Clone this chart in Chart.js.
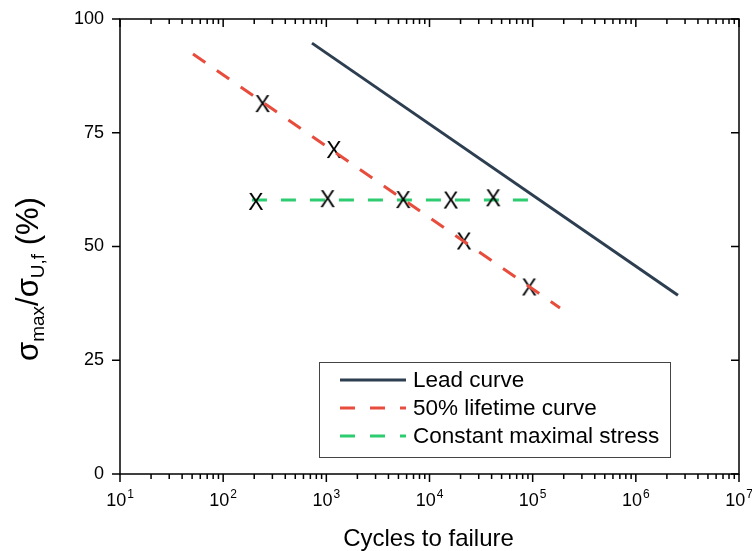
<!DOCTYPE html>
<html>
<head>
<meta charset="utf-8">
<script src="https://cdn.jsdelivr.net/npm/chart.js@4.4.0/dist/chart.umd.min.js"></script>
<style>
  html, body { margin: 0; padding: 0; background: #fff; }
  #wrap { width: 752px; height: 551px; }
</style>
</head>
<body>
<div id="wrap"><canvas id="sn"></canvas></div>
<script>
// S-N data: cycles to failure vs. max stress ratio (%)
const leadCycles = [726, 2.56e6];
const leadStress = [94.7, 39.3];

const lifetimeCycles = [51, 1.84e5];
const lifetimeStress = [92.3, 36.5];

const constCycles = [190, 9.0e4];
const constStress = [60.2, 60.2];

// individual test results
const testCycles = [241, 1186, 208, 1030, 5570, 16100, 41500, 21600, 92700];
const testStress = [81.3, 71.2, 59.8, 60.4, 60.2, 60.1, 60.6, 51.1, 41.0];

const xExponents = [1, 2, 3, 4, 5, 6, 7];
const yTicks = [0, 25, 50, 75, 100];

const legendLabels = ['Lead curve', '50% lifetime curve', 'Constant maximal stress'];

const NAVY = '#2c3e50';
const RED = '#e74c3c';
const GREEN = '#2ecc71';
const FONT = '"Liberation Sans", Arial, sans-serif';

function pts(xs, ys) {
    return xs.map((x, i) => ({ x: x, y: ys[i] }));
}

// "X" glyph used as marker
function makeCross() {
    const c = document.createElement('canvas');
    c.width = 24; c.height = 24;
    const g = c.getContext('2d');
    g.fillStyle = '#000';
    g.font = '23px ' + FONT;
    g.textAlign = 'center';
    g.textBaseline = 'alphabetic';
    g.fillText('X', 12, 20.3);
    return c;
}

const axesPlugin = {
    id: 'axesPlugin',
    afterDraw(chart) {
        const ctx = chart.ctx;
        const a = chart.chartArea;
        const xs = chart.scales.x;
        const ys = chart.scales.y;
        ctx.save();
        ctx.strokeStyle = '#000';
        ctx.lineWidth = 1.5;
        ctx.strokeRect(a.left, a.top, a.right - a.left, a.bottom - a.top);

        // x ticks: bottom outward, top inward
        ctx.beginPath();
        xExponents.forEach((e, i) => {
            const px = xs.getPixelForValue(Math.pow(10, e));
            ctx.moveTo(px, a.bottom); ctx.lineTo(px, a.bottom + 8);
            ctx.moveTo(px, a.top); ctx.lineTo(px, a.top + 8);
            if (i < xExponents.length - 1) {
                for (let m = 2; m <= 9; m++) {
                    const mx = xs.getPixelForValue(m * Math.pow(10, e));
                    ctx.moveTo(mx, a.bottom); ctx.lineTo(mx, a.bottom + 5);
                    ctx.moveTo(mx, a.top); ctx.lineTo(mx, a.top + 5);
                }
            }
        });
        // y ticks: left outward, right inward
        yTicks.forEach(v => {
            const py = ys.getPixelForValue(v);
            ctx.moveTo(a.left - 8, py); ctx.lineTo(a.left, py);
            ctx.moveTo(a.right - 8, py); ctx.lineTo(a.right, py);
        });
        ctx.stroke();

        ctx.fillStyle = '#000';
        // y tick labels
        ctx.font = '18px ' + FONT;
        ctx.textAlign = 'right';
        ctx.textBaseline = 'middle';
        yTicks.forEach(v => {
            ctx.fillText(String(v), a.left - 16, ys.getPixelForValue(v));
        });

        // x tick labels with superscript exponent
        ctx.textBaseline = 'alphabetic';
        ctx.textAlign = 'left';
        xExponents.forEach(e => {
            const px = xs.getPixelForValue(Math.pow(10, e));
            ctx.font = '18px ' + FONT;
            const w1 = ctx.measureText('10').width;
            ctx.font = '12px ' + FONT;
            const w2 = ctx.measureText(String(e)).width;
            const x0 = px - (w1 + w2 + 1) / 2;
            ctx.font = '18px ' + FONT;
            ctx.fillText('10', x0, a.bottom + 32);
            ctx.font = '12px ' + FONT;
            ctx.fillText(String(e), x0 + w1 + 1, a.bottom + 24);
        });

        // x title
        ctx.font = '24px ' + FONT;
        ctx.textAlign = 'center';
        ctx.fillText('Cycles to failure', (a.left + a.right) / 2 - 1, a.bottom + 72);

        // y title, rotated, with subscripts
        ctx.save();
        ctx.translate(38, 361);
        ctx.rotate(-Math.PI / 2);
        ctx.textAlign = 'left';
        const parts = [
            ['σ', 31, 0], ['max', 19, 6], ['/', 31, 0],
            ['σ', 31, 0], ['U,f', 19, 6], [' (%)', 31, 0]
        ];
        let cx = 0;
        parts.forEach(p => {
            ctx.font = p[1] + 'px ' + FONT;
            ctx.fillText(p[0], cx, p[2]);
            cx += ctx.measureText(p[0]).width;
        });
        ctx.restore();

        // legend box
        const lx = 319, ly = 362, lw = 351, lh = 95;
        ctx.lineWidth = 1;
        ctx.strokeStyle = '#444';
        ctx.strokeRect(lx + 0.5, ly + 0.5, lw, lh);
        const styles = [[NAVY, []], [RED, [15, 15]], [GREEN, [15, 15]]];
        ctx.font = '22.5px ' + FONT;
        ctx.textBaseline = 'middle';
        ctx.textAlign = 'left';
        legendLabels.forEach((t, i) => {
            const ry = 380 + i * 28;
            ctx.beginPath();
            ctx.strokeStyle = styles[i][0];
            ctx.setLineDash(styles[i][1]);
            ctx.lineWidth = 3;
            ctx.moveTo(340, ry);
            ctx.lineTo(406, ry);
            ctx.stroke();
            ctx.setLineDash([]);
            ctx.fillStyle = '#000';
            ctx.fillText(t, 413, ry + 1);
        });
        ctx.restore();
    }
};

new Chart(document.getElementById('sn'), {
    type: 'line',
    data: {
        datasets: [
            {
                label: legendLabels[1],
                data: pts(lifetimeCycles, lifetimeStress),
                borderColor: RED,
                borderWidth: 3,
                borderDash: [15, 14],
                pointRadius: 0,
                order: 1
            },
            {
                label: 'Tests',
                data: pts(testCycles, testStress),
                showLine: false,
                pointStyle: makeCross(),
                pointRadius: 10,
                order: 2
            },
            {
                label: legendLabels[2],
                data: pts(constCycles, constStress),
                borderColor: GREEN,
                borderWidth: 3,
                borderDash: [15, 14],
                pointRadius: 0,
                order: 3
            },
            {
                label: legendLabels[0],
                data: pts(leadCycles, leadStress),
                borderColor: NAVY,
                borderWidth: 3,
                pointRadius: 0,
                order: 4
            }
        ]
    },
    options: {
        responsive: true,
        maintainAspectRatio: false,
        animation: false,
        layout: { padding: { left: 120, right: 13, top: 19, bottom: 77 } },
        plugins: { legend: { display: false }, tooltip: { enabled: false } },
        scales: {
            x: { type: 'logarithmic', min: 10, max: 1e7, display: false },
            y: { type: 'linear', min: 0, max: 100, display: false }
        }
    },
    plugins: [axesPlugin]
});
</script>
</body>
</html>
